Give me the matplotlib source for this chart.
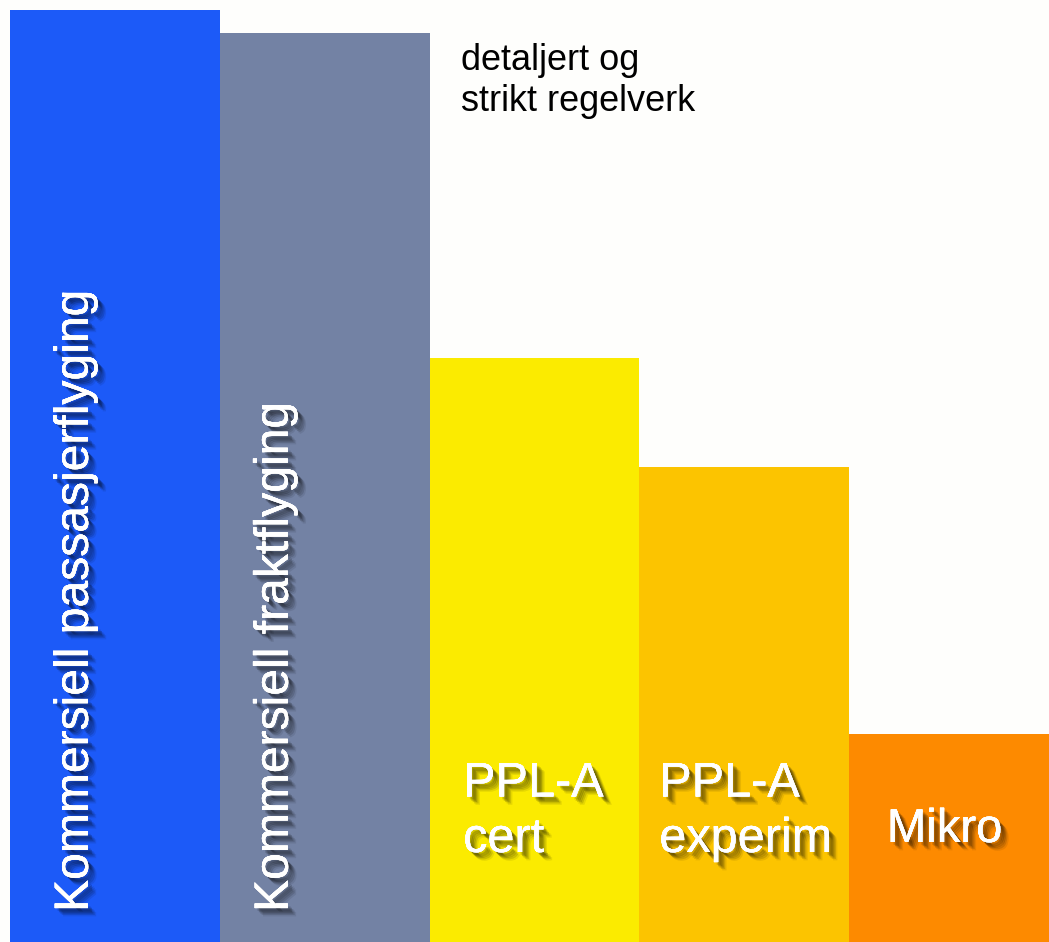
import matplotlib
matplotlib.use("Agg")
import matplotlib.pyplot as plt
import matplotlib.patheffects as pe

# DATA -- relative strictness of the rules
categories = ["Kommersiell passasjerflyging", "Kommersiell fraktflyging",
              "PPL-A\ncert", "PPL-A\nexperim", "Mikro"]
values = [932, 909, 584, 475, 208]
colors = ["#1c5af8", "#7382a4", "#fbeb00", "#fcc400", "#fd8a00"]
note = "detaljert og\nstrikt regelverk"

plt.rcParams["font.family"] = ["Liberation Sans", "DejaVu Sans"]

fig = plt.figure(figsize=(10.49, 9.42), dpi=100, facecolor="#fefefc")
ax = fig.add_axes([10 / 1049, 0, 1039 / 1049, 1])
ax.set_facecolor("#fefefc")

x = list(range(len(values)))
ax.bar(x, values, width=1.0, color=colors, linewidth=0)
ax.set_xlim(-0.5, 4.5 - 10 / 210)
ax.set_ylim(0, 942)
ax.axis("off")

# soft drop shadow for the white labels
shadow = [pe.withSimplePatchShadow(offset=(dx, -dy), shadow_rgbFace="black", alpha=a)
          for dx, dy, a in [(6, 6, 0.08), (5, 5, 0.12), (4, 4, 0.16), (3, 3, 0.2), (2, 2, 0.15)]]
shadow.append(pe.Normal())

# vertical labels on the two tall bars
ax.text(0 - 0.129, 30, categories[0], rotation=90, color="white", fontsize=34.6,
        ha="left", va="baseline", rotation_mode="anchor", path_effects=shadow)
ax.text(1 - 0.176, 30, categories[1], rotation=90, color="white", fontsize=34.6,
        ha="left", va="baseline", rotation_mode="anchor", path_effects=shadow)

# horizontal labels on the low bars
ax.text(2 - 0.34, 90, categories[2], color="white", fontsize=35, linespacing=1.3,
        ha="left", va="baseline", path_effects=shadow)
ax.text(3 - 0.405, 90, categories[3], color="white", fontsize=35, linespacing=1.3,
        ha="left", va="baseline", path_effects=shadow)
ax.text(4 - 0.32, 112, categories[4], color="white", fontsize=34,
        ha="left", va="center", path_effects=shadow)

ax.text(1.65, 942 - 43, note, color="black", fontsize=26, linespacing=1.22,
        ha="left", va="top")

fig.savefig("out.png", dpi=100, facecolor=fig.get_facecolor())
